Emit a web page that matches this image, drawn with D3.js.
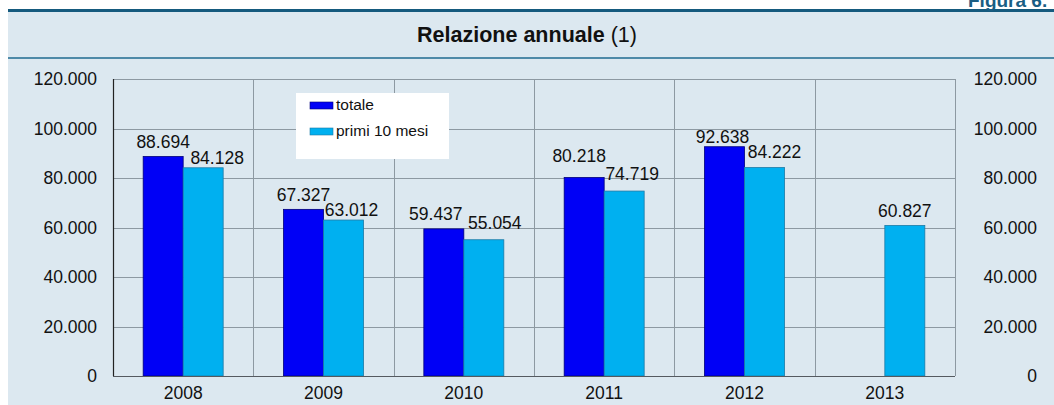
<!DOCTYPE html>
<html>
<head>
<meta charset="utf-8">
<script src="https://cdn.jsdelivr.net/npm/d3@7"></script>
<style>
  html, body { margin: 0; padding: 0; background: #ffffff; }
  svg { display: block; font-family: "Liberation Sans", Arial, Helvetica, sans-serif; }
</style>
</head>
<body>
<svg id="chart" width="1054" height="405"></svg>
<script>
// Anni e serie
const years = ["2008", "2009", "2010", "2011", "2012", "2013"];
const seriesNames = ["totale", "primi 10 mesi"];
const totale = [88694, 67327, 59437, 80218, 92638, null];
const primi10 = [84128, 63012, 55054, 74719, 84222, 60827];
const yTicks = [0, 20000, 40000, 60000, 80000, 100000, 120000];

// Spostamenti manuali delle etichette dei valori (dx, dy in px rispetto alla barra)
const labelNudgeTotale = [[0, 0], [0, 0], [-8, -1], [-5, -7], [-2, 4], [0, 0]];
const labelNudgePrimi = [[14, 4], [8, 4], [11, -3], [8, -3], [10, -2], [0, 0]];

const colors = { totale: "#0000f6", primi: "#00b0f0" };
const strokes = { totale: "#00007a", primi: "#1c7aa6" };

const it = d3.formatLocale({ decimal: ",", thousands: ".", grouping: [3], currency: ["", " €"] });
const fmt = it.format(",");

const svg = d3.select("#chart");
const W = 1054, H = 405;
const FS = 17.5;

// Fondo e intestazione
svg.append("rect").attr("x", 8).attr("y", 12).attr("width", W - 8).attr("height", H - 12).attr("fill", "#dce8f0");
svg.append("rect").attr("x", 8).attr("y", 9).attr("width", W - 8).attr("height", 3).attr("fill", "#155a7e");
svg.append("rect").attr("x", 8).attr("y", 57).attr("width", W - 8).attr("height", 2).attr("fill", "#4e8aa8");
svg.append("text").attr("x", 968).attr("y", 7).attr("font-weight", "bold").attr("font-size", 19)
  .attr("fill", "#1a5e84").text("Figura 6.");

const title = svg.append("text").attr("x", W / 2).attr("y", 42).attr("text-anchor", "middle")
  .attr("font-size", 21.5).attr("fill", "#111");
title.append("tspan").attr("font-weight", "bold").text("Relazione annuale");
title.append("tspan").text(" (1)");

// Area del grafico
const plot = { left: 113, right: 955, top: 79, bottom: 376 };

const x0 = d3.scaleBand().domain(years).range([plot.left, plot.right]).padding(0);
const bw = x0.bandwidth();
const x1 = d3.scaleBand().domain(seriesNames).range([bw * 0.215, bw * 0.785]).padding(0);
const y = d3.scaleLinear().domain([0, 120000]).range([plot.bottom, plot.top]);

const grid = svg.append("g").attr("stroke", "#8d99a2").attr("stroke-width", 1);
// griglia orizzontale
grid.selectAll("line.h").data(yTicks.filter(d => d > 0)).join("line")
  .attr("x1", plot.left).attr("x2", plot.right)
  .attr("y1", d => Math.round(y(d)) + 0.5).attr("y2", d => Math.round(y(d)) + 0.5);
// griglia verticale (separatori tra gli anni)
grid.selectAll("line.v").data(years.slice(1).concat(["end"])).join("line")
  .attr("x1", d => Math.round(d === "end" ? plot.right : x0(d)) + 0.5)
  .attr("x2", d => Math.round(d === "end" ? plot.right : x0(d)) + 0.5)
  .attr("y1", plot.top).attr("y2", plot.bottom);

// Barre
const rows = years.map((yr, i) => ({ yr, i, totale: totale[i], primi: primi10[i] }));
const groups = svg.append("g").selectAll("g").data(rows).join("g")
  .attr("transform", d => `translate(${x0(d.yr)},0)`);

groups.filter(d => d.totale != null).append("rect")
  .attr("x", x1("totale")).attr("width", x1.bandwidth())
  .attr("y", d => y(d.totale)).attr("height", d => y(0) - y(d.totale))
  .attr("fill", colors.totale).attr("stroke", strokes.totale).attr("stroke-width", 0.8);

groups.filter(d => d.primi != null).append("rect")
  .attr("x", x1("primi 10 mesi")).attr("width", x1.bandwidth())
  .attr("y", d => y(d.primi)).attr("height", d => y(0) - y(d.primi))
  .attr("fill", colors.primi).attr("stroke", strokes.primi).attr("stroke-width", 0.8);

// Etichette dei valori
groups.filter(d => d.totale != null).append("text")
  .attr("x", d => x1("totale") + x1.bandwidth() / 2 + labelNudgeTotale[d.i][0])
  .attr("y", d => y(d.totale) - 8 + labelNudgeTotale[d.i][1])
  .attr("text-anchor", "middle").attr("font-size", FS).attr("fill", "#111")
  .text(d => fmt(d.totale));

groups.filter(d => d.primi != null).append("text")
  .attr("x", d => x1("primi 10 mesi") + x1.bandwidth() / 2 + labelNudgePrimi[d.i][0])
  .attr("y", d => y(d.primi) - 8 + labelNudgePrimi[d.i][1])
  .attr("text-anchor", "middle").attr("font-size", FS).attr("fill", "#111")
  .text(d => fmt(d.primi));

// Assi
const axisStyle = g => {
  g.select(".domain").remove();
  g.selectAll(".tick line").remove();
  g.selectAll(".tick text").attr("font-size", FS).attr("fill", "#111")
    .attr("font-family", "\"Liberation Sans\", Arial, Helvetica, sans-serif");
};

svg.append("g").attr("transform", `translate(${plot.left - 16},0)`)
  .call(d3.axisLeft(y).tickValues(yTicks).tickFormat(fmt).tickSize(0).tickPadding(0))
  .call(axisStyle);

svg.append("g").attr("transform", `translate(${plot.right + 82},0)`)
  .call(d3.axisLeft(y).tickValues(yTicks).tickFormat(fmt).tickSize(0).tickPadding(0))
  .call(axisStyle);

svg.append("g").attr("transform", `translate(0,${plot.bottom})`)
  .call(d3.axisBottom(x0).tickSize(0).tickPadding(11))
  .call(axisStyle);

// linee d'asse
svg.append("line").attr("x1", plot.left + 0.5).attr("x2", plot.left + 0.5)
  .attr("y1", plot.top).attr("y2", plot.bottom).attr("stroke", "#222").attr("stroke-width", 1.2);
svg.append("line").attr("x1", plot.left).attr("x2", plot.right)
  .attr("y1", plot.bottom + 0.5).attr("y2", plot.bottom + 0.5).attr("stroke", "#555a60").attr("stroke-width", 1.2);

// Legenda
const legend = svg.append("g").attr("transform", "translate(296,93)");
legend.append("rect").attr("width", 153).attr("height", 66).attr("fill", "#ffffff");
const legItems = [
  { name: seriesNames[0], fill: colors.totale, stroke: strokes.totale },
  { name: seriesNames[1], fill: colors.primi, stroke: strokes.primi }
];
const li = legend.selectAll("g").data(legItems).join("g")
  .attr("transform", (d, i) => `translate(14,${9 + i * 26})`);
li.append("rect").attr("width", 23).attr("height", 7)
  .attr("fill", d => d.fill).attr("stroke", d => d.stroke).attr("stroke-width", 0.6);
li.append("text").attr("x", 26).attr("y", 8).attr("font-size", 15.5).attr("fill", "#111").text(d => d.name);
</script>
</body>
</html>
